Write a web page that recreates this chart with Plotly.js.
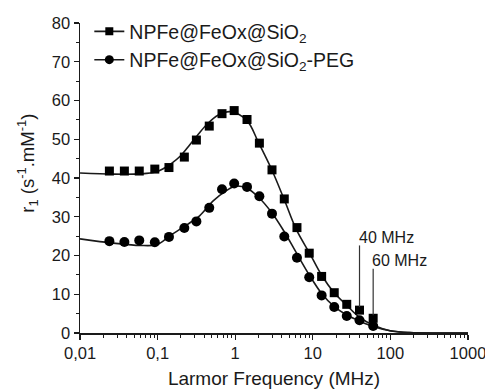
<!DOCTYPE html>
<html>
<head>
<meta charset="utf-8">
<script src="https://cdn.plot.ly/plotly-3.0.1.min.js"></script>
<style>
  html, body { margin: 0; padding: 0; background: #fff; }
  #chart { width: 485px; height: 390px; }
</style>
</head>
<body>
<div id="chart"></div>
<script>
// Measured longitudinal relaxivity (NMRD profile) of the two nanoparticle batches
const freq = [0.0239, 0.0373, 0.058, 0.092, 0.140, 0.221, 0.316, 0.463, 0.676, 0.97, 1.42,
              2.05, 2.98, 4.29, 6.25, 9.0, 13.0, 18.9, 27.4, 40, 60];
const r1Sio2 = [41.8, 41.8, 41.8, 42.3, 42.7, 45.4, 49.8, 53.4, 56.6, 57.4, 55.1,
                49.0, 42.1, 34.6, 27.2, 20.6, 14.6, 10.4, 7.4, 5.9, 3.8];
const r1Peg = [23.7, 23.5, 23.9, 23.4, 24.8, 27.1, 28.8, 32.3, 37.1, 38.6, 37.7,
               35.3, 30.8, 24.9, 19.4, 14.4, 9.7, 6.7, 4.4, 3.3, 1.8];

// Fitted relaxation model curves
const fitFreqSio2 = [0.01, 0.027, 0.05, 0.072, 0.1, 0.118, 0.15, 0.195, 0.26, 0.32, 0.43, 0.6,
                     0.88, 1.42, 1.98, 2.95, 4.27, 6.1, 9.2, 13.0, 18.5, 27.2, 40.3, 60.5,
                     99, 177, 437, 1000];
const fitSio2 = [41.3, 41.0, 41.0, 41.2, 41.7, 42.4, 43.7, 45.6, 48.6, 50.8, 53.8, 56.2,
                 57.1, 54.8, 49.3, 42.2, 34.5, 26.8, 20.4, 14.9, 10.6, 7.2, 4.0, 2.0,
                 0.6, 0.1, 0.0, 0.0];
const fitFreqPeg = [0.01, 0.027, 0.059, 0.0975, 0.144, 0.237, 0.35, 0.52, 0.78, 0.99, 1.40,
                    1.98, 2.95, 4.27, 6.1, 9.0, 13.0, 18.5, 27, 40, 60, 99, 177, 437, 1000];
const fitPeg = [24.3, 23.2, 22.6, 22.8, 25.1, 27.9, 30.3, 34.1, 36.8, 37.9, 37.4,
                35.1, 31.1, 26.2, 20.8, 15.0, 10.2, 7.0, 4.7, 3.1, 1.7, 0.6, 0.1, 0.0, 0.0];

// Clinical field strengths marked on the plot
const markFreq = [40, 60];
const markLabels = ['40 MHz', '60 MHz'];
const markTop = [22.6, 16.6];
const markBottom = [6.7, 4.6];

const seriesNames = ['NPFe@FeOx@SiO<sub>2</sub>', 'NPFe@FeOx@SiO<sub>2</sub>-PEG'];

const xTickVals = [0.01, 0.1, 1, 10, 100, 1000];
const xTickText = ['0,01', '0,1', '1', '10', '100', '1000'];

const FONT = 'Liberation Sans, Arial, sans-serif';
const INK = '#1a1a1a';

const traces = [];

// fitted curves
traces.push({
  x: fitFreqSio2, y: fitSio2, mode: 'lines', type: 'scatter',
  line: { color: INK, width: 1.6, shape: 'spline', smoothing: 1 },
  showlegend: false, hoverinfo: 'skip'
});
traces.push({
  x: fitFreqPeg, y: fitPeg, mode: 'lines', type: 'scatter',
  line: { color: INK, width: 1.6, shape: 'spline', smoothing: 1 },
  showlegend: false, hoverinfo: 'skip'
});

// measured points
traces.push({
  x: freq, y: r1Sio2, mode: 'markers', type: 'scatter',
  marker: { symbol: 'square', size: 9, color: '#000' },
  showlegend: false
});
traces.push({
  x: freq, y: r1Peg, mode: 'markers', type: 'scatter',
  marker: { symbol: 'circle', size: 10, color: '#000' },
  showlegend: false
});

// leader lines for the field-strength labels
markFreq.forEach((f, i) => {
  traces.push({
    x: [f, f], y: [markTop[i], markBottom[i]], mode: 'lines', type: 'scatter',
    line: { color: '#333', width: 1.2 }, showlegend: false, hoverinfo: 'skip'
  });
});

// legend entries (line + marker)
traces.push({
  x: [null], y: [null], mode: 'lines+markers', type: 'scatter', name: seriesNames[0],
  line: { color: INK, width: 1.6 }, marker: { symbol: 'square', size: 8, color: '#000' }
});
traces.push({
  x: [null], y: [null], mode: 'lines+markers', type: 'scatter', name: seriesNames[1],
  line: { color: INK, width: 1.6 }, marker: { symbol: 'circle', size: 9, color: '#000' }
});

const annotations = markFreq.map((f, i) => ({
  x: Math.log10(f), y: markTop[i] + 2.0, xref: 'x', yref: 'y',
  text: markLabels[i], showarrow: false, xanchor: 'left', yanchor: 'middle',
  xshift: -3, font: { family: FONT, size: 16, color: INK }
}));

annotations.push({
  xref: 'paper', yref: 'paper', x: -0.134, y: 0.546,
  text: 'r<sub>1</sub> (s<sup>-1</sup>.mM<sup>-1</sup>)', textangle: -90,
  showarrow: false, xanchor: 'center', yanchor: 'middle',
  font: { family: FONT, size: 18.5, color: INK }
});

const layout = {
  width: 485, height: 390,
  margin: { l: 80, r: 17, t: 21, b: 57 },
  paper_bgcolor: '#fff', plot_bgcolor: '#fff',
  font: { family: FONT, size: 16, color: INK },
  showlegend: true,
  legend: {
    x: 0.024, y: 1.035, xanchor: 'left', yanchor: 'top',
    bgcolor: 'rgba(0,0,0,0)', font: { family: FONT, size: 19.5, color: INK },
    itemwidth: 30, tracegroupgap: 0
  },
  xaxis: {
    type: 'log', range: [-2.0004, 3.0004],
    tickmode: 'array', tickvals: xTickVals, ticktext: xTickText,
    ticks: 'outside', ticklen: 5, tickwidth: 1.2, tickcolor: INK,
    showline: true, linecolor: INK, linewidth: 1.5,
    showgrid: false, zeroline: false,
    ticklabeloverflow: 'allow',
    tickfont: { family: FONT, size: 16.5, color: INK },
    minor: { dtick: 'D1', ticks: 'outside', ticklen: 3, tickwidth: 1, tickcolor: INK, showgrid: false },
    title: { text: 'Larmor Frequency (MHz)', font: { family: FONT, size: 19, color: INK }, standoff: 10 }
  },
  yaxis: {
    range: [0, 80], dtick: 10, tick0: 0,
    ticks: 'outside', ticklen: 5, tickwidth: 1.2, tickcolor: INK,
    showline: true, linecolor: INK, linewidth: 1.5,
    showgrid: false, zeroline: false,
    tickfont: { family: FONT, size: 16.5, color: INK },
    minor: { dtick: 5, ticks: 'outside', ticklen: 3, tickwidth: 1, tickcolor: INK, showgrid: false }
  },
  annotations: annotations
};

Plotly.newPlot('chart', traces, layout, { staticPlot: true, displayModeBar: false });
</script>
</body>
</html>
